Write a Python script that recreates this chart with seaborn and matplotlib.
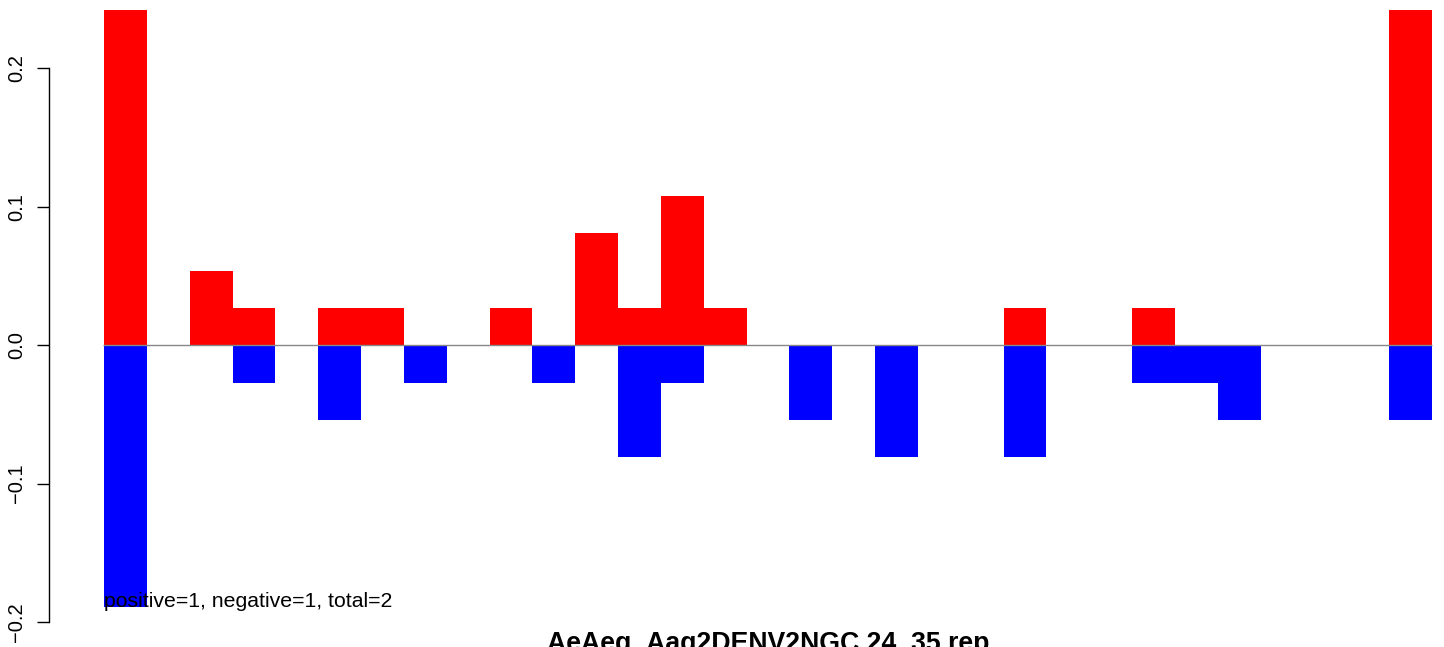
import matplotlib
matplotlib.use("Agg")
import matplotlib.pyplot as plt
import seaborn as sns
import numpy as np
import pandas as pd

# ---- data ----
positions = list(range(31))
positive_values = [0.27, 0, 0.054, 0.027, 0, 0.027, 0.027, 0, 0, 0.027, 0,
                   0.081, 0.027, 0.108, 0.027, 0, 0, 0, 0, 0, 0,
                   0.027, 0, 0, 0.027, 0, 0, 0, 0, 0, 0.27]
negative_values = [-0.189, 0, 0, -0.027, 0, -0.054, 0, -0.027, 0, 0, -0.027,
                   0, -0.081, -0.027, 0, 0, -0.054, 0, -0.081, 0, 0,
                   -0.081, 0, 0, -0.027, -0.027, -0.054, 0, 0, 0, -0.054]
y_ticks = [-0.2, -0.1, 0.0, 0.1, 0.2]
y_tick_labels = ["\u22120.2", "\u22120.1", "0.0", "0.1", "0.2"]
annotation = "positive=1, negative=1, total=2"
title = "AeAeg_Aag2DENV2NGC 24_35 rep"

sns.set_style("white")
plt.rcParams['font.family'] = ['Liberation Sans', 'DejaVu Sans']
plt.rcParams['text.color'] = 'black'
plt.rcParams['ytick.color'] = 'black'
plt.rcParams['ytick.labelcolor'] = 'black'

W, H = 1444, 647
fig = plt.figure(figsize=(W / 100, H / 100), dpi=100)
ax = fig.add_axes([49 / W, 0, (W - 49) / W, 637 / H])

df = pd.DataFrame({"pos": positions, "pos_v": positive_values, "neg_v": negative_values})
sns.barplot(data=df, x="pos", y="pos_v", color="#FF0000", saturation=1,
            width=1, linewidth=0, errorbar=None, ax=ax)
sns.barplot(data=df, x="pos", y="neg_v", color="#0000FF", saturation=1,
            width=1, linewidth=0, errorbar=None, ax=ax)

ax.hlines(0, -0.53, len(positions) - 0.5, color="#888888", linewidth=1.0, zorder=5)

px_per_unit = (1432 - 104) / 31.0
xl = -0.5 - (104 - 49) / px_per_unit
xr = xl + (W - 49) / px_per_unit
ax.set_xlim(xl, xr)
ax.set_ylim(-0.218, 0.2422)

for s in ["top", "right", "bottom"]:
    ax.spines[s].set_visible(False)
ax.spines["left"].set_bounds(-0.2, 0.2)
ax.spines["left"].set_color("black")
ax.spines["left"].set_linewidth(1.0)
ax.set_xticks([])
ax.set_xlabel("")
ax.set_ylabel("")
ax.set_yticks(y_ticks)
ax.set_yticklabels(y_tick_labels, rotation=90, va="center", fontsize=14.5, color="black")
ax.tick_params(axis="y", left=True, length=8.6, width=1.0, color="black",
               labelcolor="black", pad=8)

ax.text(-0.5, -0.189, annotation, ha="left", va="baseline", fontsize=15.3, color="black", zorder=6)

fig.text(768 / W, -4 / H, title, ha="center", va="baseline", fontsize=19.2,
         fontweight="bold", color="black")

fig.savefig("out.png", dpi=100)
